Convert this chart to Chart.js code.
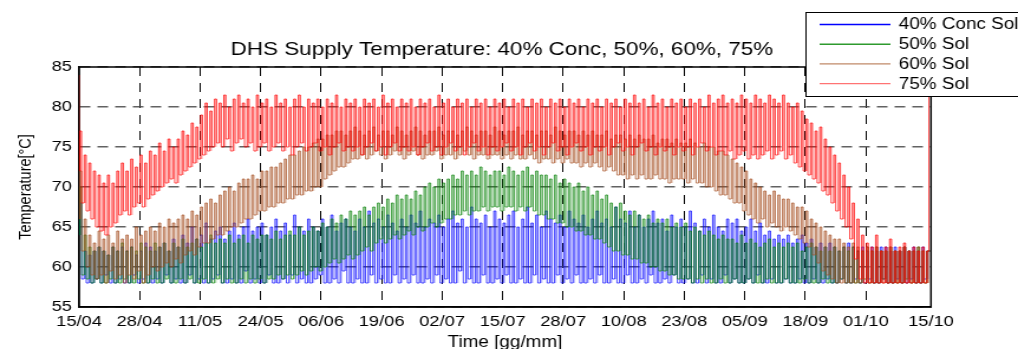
<!DOCTYPE html>
<html>
<head>
<meta charset="utf-8">
<title>DHS Supply Temperature</title>
<script src="https://cdn.jsdelivr.net/npm/chart.js@4.4.1/dist/chart.umd.min.js"></script>
<style>
    html, body { margin: 0; padding: 0; background: #fff; overflow: hidden; }
    /* the original figure is stretched sideways, so draw narrow and scale on x */
    #wrap { width: 862px; height: 349px; transform: scaleX(1.18097); transform-origin: 0 0; }
</style>
</head>
<body>
<div id="wrap"><canvas id="tempChart" width="862" height="349"></canvas></div>
<script>
Chart.defaults.font.family = '"Liberation Sans", Arial, sans-serif';
Chart.defaults.color = '#000';

const seriesLabels = ['40% Conc Sol', '50% Sol', '60% Sol', '75% Sol'];
const lineColors = ['#0000ff', '#008000', '#a34a1c', '#ff0000'];
const fillColors = ['rgba(0,0,255,0.27)', 'rgba(0,128,0,0.28)', 'rgba(163,74,28,0.33)', 'rgba(255,0,0,0.33)'];
const legendColors = ['#0000ff', '#2e9a2e', '#c08a68', '#ff7373'];

// x axis: days counted from 15/04
const lastDay = 183;
const tickDays = [0, 13, 26, 39, 52, 65, 78, 91, 104, 117, 130, 143, 156, 169, 183];
const tickLabels = ['15/04', '28/04', '11/05', '24/05', '06/06', '19/06', '02/07', '15/07',
    '28/07', '10/08', '23/08', '05/09', '18/09', '01/10', '15/10'];

// value at the very first and very last sample (blue, green, brown, red)
const startValues = [72, 74, 76, 84];
const endValues = [62, 62, 62, 85];

// daily peak / daily low per series (days 0..182)
const blueHi = [
    68, 62, 61.5, 62, 62.5, 62, 61.5, 62.5, 62, 62.5,
    62, 62.5, 61.5, 62, 63, 62.5, 62, 62.5, 63, 62,
    63.5, 62.5, 64, 63, 65, 63.5, 64, 65.5, 63.5, 64.5,
    65, 63.5, 64.5, 65.5, 64, 65, 66, 64.5, 65, 65.5,
    64, 65, 66, 64.5, 65.5, 64, 66.5, 65, 64.5, 66,
    65, 64.5, 66, 65, 66.5, 64.5, 65.5, 66, 65, 64.5,
    66, 65, 67, 65.5, 66, 65, 66.5, 65.5, 64.5, 66,
    65, 66.5, 65.5, 67, 65, 66, 65.5, 66.5, 65, 66,
    67, 65.5, 66, 65, 67.5, 66, 65.5, 66.5, 65, 67,
    66, 65.5, 66.5, 67, 65, 66, 67.5, 65.5, 66.5, 65,
    67, 66, 65.5, 66.5, 65, 67, 66, 65.5, 66.5, 65,
    66, 67, 65.5, 66, 65, 67.5, 66, 65.5, 67, 65,
    66.5, 65, 66, 67, 65.5, 66, 64.5, 66.5, 65, 66,
    65, 67, 65.5, 64.5, 66, 65, 66.5, 65, 64.5, 66,
    65.5, 66, 64.5, 65, 66, 64.5, 65.5, 64, 64.5, 63.5,
    64, 63.5, 64, 63, 63.5, 64, 63, 63.5, 62.5, 63,
    62.5, 63, 62.5, 62, 62.5, 63, 62.5, 62, 62.5, 62,
    62.5, 62, 62.5, 62.5, 62, 62.5, 62, 62.5, 62, 62.5,
    62, 62.5, 62
];
const blueLo = [
    64, 58.5, 58, 58, 58.5, 58, 59, 58, 58, 58.5,
    58, 58, 59, 58, 58.5, 58, 58, 58.5, 58, 59,
    58, 58.5, 58, 58, 59, 58, 58.5, 58, 58, 58.5,
    59, 58, 58, 58.5, 58, 58, 59.5, 58, 58.5, 58,
    58, 59, 58, 58, 58.5, 58, 59, 58, 58.5, 58,
    58, 58.5, 59, 58, 58, 58.5, 58, 59.5, 58, 58,
    58.5, 58, 58, 59, 58, 58.5, 58, 58, 59, 58,
    58.5, 58, 59, 58, 58, 58.5, 58, 59, 58, 58.5,
    58, 58, 59.5, 58, 58.5, 58, 58, 59, 58, 58,
    58.5, 58, 59, 58, 58, 58.5, 58, 58, 59, 58,
    58.5, 58, 58, 59, 58, 58.5, 58, 59, 58, 58,
    58.5, 58, 59, 58, 58, 58.5, 58, 58, 59, 58,
    58, 58.5, 58, 59, 58, 58, 58.5, 58, 59, 58,
    58, 58.5, 58, 58, 59, 58, 58.5, 58, 58, 59,
    58, 58.5, 58, 58, 58.5, 58, 59, 58, 58, 58.5,
    58, 58, 58.5, 58, 58, 58.5, 58, 58, 58.5, 58,
    58, 58.5, 58, 58, 58.5, 58, 58, 58.5, 58, 58,
    58.5, 58, 58, 58.5, 58, 58, 58.5, 58, 58, 58.5,
    58, 58, 58.5
];

const greenHi = [
    70, 64, 62.5, 62, 62.5, 62, 61.5, 62.5, 62, 63,
    62, 62.5, 62, 63, 62.5, 62, 63, 62.5, 63, 62,
    63, 62.5, 63.5, 62.5, 63, 63.5, 62.5, 63, 64, 63,
    63.5, 63, 64, 63, 63.5, 64, 63, 64, 63.5, 64,
    64, 63.5, 64.5, 63.5, 64, 64.5, 64, 65, 64, 64.5,
    65, 64.5, 65.5, 65, 66, 65.5, 66.5, 66, 67, 66.5,
    67, 67.5, 66.5, 67.5, 68, 67.5, 68.5, 68, 69, 68.5,
    69, 68.5, 69.5, 69, 70, 70.5, 70, 71, 70.5, 71,
    71.5, 71, 72, 71.5, 72, 71.5, 72.5, 72, 71.5, 72,
    72, 71.5, 72.5, 72, 71.5, 72, 72.5, 71.5, 72, 71.5,
    71.5, 71, 71.5, 70.5, 71, 70.5, 70, 70.5, 69.5, 70,
    69, 69.5, 68.5, 69, 68, 67.5, 68, 67, 66.5, 67,
    66.5, 66, 66.5, 65.5, 66, 65.5, 66, 65, 65.5, 65,
    65.5, 64.5, 65, 64.5, 64, 64.5, 64, 63.5, 64, 63.5,
    63.5, 63, 64, 63, 63.5, 63, 62.5, 63, 63.5, 62.5,
    63, 62.5, 63, 62.5, 63, 62, 62.5, 63, 62.5, 62,
    62.5, 62, 62.5, 62, 62.5, 62, 62.5, 62, 62, 62.5,
    62, 62.5, 62, 62, 62.5, 62, 62, 62.5, 62, 62,
    62.5, 62, 62
];
const greenLo = [
    64, 59, 58.5, 58, 58.5, 58, 58, 58.5, 58, 58,
    58.5, 58, 58, 58.5, 58, 58, 58.5, 58, 58, 58.5,
    58, 58, 58.5, 58, 58.5, 58, 58, 58.5, 58, 58,
    58.5, 58, 58.5, 58, 58, 58.5, 58, 58.5, 58, 58.5,
    58, 58.5, 58.5, 59, 58.5, 59, 58.5, 59, 59.5, 59,
    59.5, 60, 59.5, 60, 60.5, 61, 60.5, 61, 61.5, 61,
    61.5, 62, 62.5, 62, 63, 63.5, 63, 63.5, 64, 63.5,
    64, 64.5, 64, 65, 64.5, 65, 65.5, 65, 65.5, 66,
    66, 66.5, 66.5, 67, 66.5, 67, 67, 67.5, 67, 67.5,
    67.5, 67, 67.5, 67.5, 67, 67.5, 67, 67.5, 67, 66.5,
    66.5, 66, 66, 65.5, 65.5, 65, 65, 64.5, 64.5, 64,
    64, 63.5, 63.5, 63, 62.5, 62, 62, 61.5, 61.5, 61,
    61, 60.5, 60.5, 60, 60, 59.5, 59.5, 59, 59, 58.5,
    58.5, 58.5, 58, 58.5, 58, 58.5, 58, 58, 58.5, 58,
    58, 58.5, 58, 58, 58.5, 58, 58, 58, 58.5, 58,
    58, 58, 58.5, 58, 58, 58, 58.5, 58, 58, 58,
    58.5, 58, 58, 58, 58.5, 58, 58, 58, 58, 58.5,
    58, 58, 58, 58.5, 58, 58, 58, 58, 58.5, 58,
    58, 58, 58
];

const brownHi = [
    72, 66, 64, 63, 64.5, 63.5, 64, 63, 64.5, 63.5,
    64, 63.5, 65, 64, 64.5, 65, 64.5, 65.5, 65, 66,
    65.5, 66, 66.5, 66, 67, 66.5, 67.5, 68, 68.5, 68,
    69, 69.5, 70, 69.5, 70.5, 71, 71, 71.5, 71, 72,
    72, 72.5, 72.5, 73, 73.5, 74, 74, 74.5, 75, 75,
    75.5, 76, 76, 76.5, 76.5, 77, 77, 76.5, 77, 77.5,
    77, 76.5, 77, 77.5, 76.5, 77, 77, 76.5, 77.5, 77,
    76.5, 77, 77.5, 77, 76.5, 77, 77, 77.5, 76.5, 77,
    77, 76.5, 77, 77.5, 77, 76.5, 77, 77, 76.5, 77.5,
    77, 76.5, 77, 77, 77.5, 76.5, 77, 77, 76.5, 77,
    77, 76.5, 77.5, 77, 76.5, 77, 77, 76.5, 77, 76.5,
    77, 76.5, 76.5, 77, 76, 76.5, 76.5, 76, 76.5, 76,
    76.5, 76, 76, 76.5, 75.5, 76, 76, 75.5, 76, 75.5,
    75.5, 76, 75.5, 75, 75.5, 75, 75, 74.5, 74.5, 74,
    73.5, 73, 72.5, 72, 71, 70.5, 70, 69.5, 69, 69.5,
    69, 68.5, 68.5, 68, 67.5, 67.5, 67, 66, 65.5, 65,
    64.5, 64, 63.5, 63.5, 63, 62.5, 63, 62.5, 62, 62.5,
    62, 62.5, 62, 62, 62.5, 62, 62, 62.5, 62, 62,
    62.5, 62, 62
];
const brownLo = [
    66, 62, 60, 59, 58.5, 59, 58, 59.5, 58.5, 59,
    58, 59, 58.5, 59.5, 58, 59, 60, 59.5, 60, 60.5,
    60, 61, 60.5, 61.5, 62, 61.5, 62.5, 63, 63, 63.5,
    64, 64, 64.5, 65, 65, 65.5, 66, 66, 66.5, 67,
    67, 67.5, 67.5, 68, 68, 68.5, 68.5, 69, 69, 69.5,
    69.5, 70, 70, 71, 71.5, 72, 72.5, 72.5, 73, 73.5,
    73.5, 74, 73.5, 74, 74.5, 74, 73.5, 74, 74.5, 74,
    73.5, 74, 74.5, 74, 73.5, 74, 74, 74.5, 73.5, 74,
    74, 73.5, 74, 74.5, 74, 73.5, 74, 74, 73.5, 74,
    74, 73.5, 74, 73.5, 74, 73.5, 73.5, 74, 73.5, 73,
    73.5, 73.5, 73, 73.5, 73, 73.5, 73, 73, 72.5, 73,
    72.5, 73, 72.5, 72, 72.5, 72, 71.5, 71.5, 71, 71.5,
    71, 71.5, 71, 71, 71.5, 71, 71, 70.5, 71, 71,
    71, 70.5, 71, 70.5, 70.5, 70, 70, 69.5, 69, 69,
    68.5, 68, 68, 67, 66.5, 66, 65.5, 66, 65, 65.5,
    65, 64.5, 65, 64.5, 64, 63.5, 63, 62.5, 61.5, 60.5,
    59.5, 59, 58.5, 58, 58, 58, 58, 58, 58, 58,
    58, 58, 58, 58, 58, 58, 58, 58, 58, 58,
    58, 58, 58
];

const redHi = [
    77, 74, 73, 72, 71.5, 70.5, 71.5, 70.5, 72, 73,
    72, 73.5, 72.5, 74, 73, 74.5, 74, 75.5, 74.5, 76,
    75, 76, 77, 76.5, 78, 77.5, 79, 80.5, 79.5, 81,
    80.5, 81.5, 80, 81, 81.5, 80.5, 81, 80, 81.5, 80.5,
    81, 80, 81.5, 80.5, 81, 80, 81, 81.5, 80, 81,
    80.5, 81, 80, 81, 80.5, 81.5, 80, 81, 80.5, 81,
    80, 81, 80.5, 81, 80, 81.5, 80.5, 81, 80, 81,
    80.5, 81, 80, 81, 80.5, 81, 80, 81.5, 80.5, 81,
    80, 81, 80.5, 81, 80, 81, 80.5, 81, 80, 81,
    80.5, 81, 80, 81, 80.5, 81, 80, 81, 80.5, 81,
    80, 81, 80.5, 81, 80, 81, 80.5, 81, 80, 81,
    80.5, 81, 80, 81, 80.5, 81, 80, 81, 80.5, 81.5,
    80.5, 81, 80, 81.5, 80.5, 81, 80, 81, 80.5, 81,
    80, 81, 80.5, 81, 80, 81.5, 80.5, 81, 81.5, 80.5,
    81, 80.5, 81.5, 81, 80.5, 81.5, 81, 80.5, 81.5, 81,
    80.5, 81.5, 80.5, 80, 80.5, 79.5, 78.5, 78, 77, 77.5,
    76, 75, 74, 73, 71.5, 70, 68, 66, 64, 63,
    62.5, 64, 62, 62.5, 63.5, 62, 62.5, 63, 62, 62.5,
    62, 62.5, 62
];
const redLo = [
    72, 68, 67, 66, 65, 64.5, 64, 65, 65.5, 66.5,
    67, 66.5, 67.5, 68, 67.5, 68.5, 69, 69.5, 70, 70.5,
    71, 70.5, 71.5, 72, 72.5, 73, 73.5, 74, 74.5, 75,
    75.5, 75, 76, 74.5, 75.5, 76, 75, 75.5, 74.5, 75,
    75.5, 74.5, 75, 75.5, 74.5, 75, 74, 75, 75.5, 74.5,
    75, 75.5, 74.5, 75, 74, 75, 75.5, 74.5, 75, 74.5,
    75, 74, 75, 75.5, 74.5, 75, 74, 75, 75.5, 74.5,
    75, 74.5, 75, 74, 75, 75.5, 74.5, 75, 74, 75,
    75.5, 74.5, 75, 74, 75, 75.5, 74.5, 75, 74, 75,
    74.5, 75, 75.5, 74.5, 75, 74, 75, 75.5, 74.5, 75,
    74, 75, 75.5, 74.5, 75, 74, 75, 75.5, 74.5, 75,
    74, 75, 74.5, 75, 74, 75, 75.5, 74.5, 75, 74,
    75, 75.5, 74.5, 75, 74, 75, 74.5, 75, 74, 75,
    74.5, 75, 74, 75, 75.5, 74.5, 75, 74, 74.5, 74,
    74.5, 73.5, 74, 74.5, 73.5, 74, 73.5, 74, 74.5, 73.5,
    74, 74.5, 73.5, 74, 73, 72.5, 72, 71.5, 71, 70.5,
    69.5, 69, 68, 67, 66, 65, 63.5, 61, 58.5, 58,
    58, 58, 58, 58, 58, 58, 58, 58, 58, 58,
    58, 58, 58
];

const highs = [blueHi, greenHi, brownHi, redHi];
const lows = [blueLo, greenLo, brownLo, redLo];

// within each day: the peak holds from pulseStart to pulseEnd, the low the rest of the day
// (stepped 'after': each segment takes the value of the point that ends it)
const pulseStart = 0.1;
const pulseEnd = 0.55;

function pulsePoints(i, lowOnly) {
    const pts = [{ x: 0, y: startValues[i] }];
    const n = Math.min(highs[i].length, lows[i].length);
    for (let d = 0; d < n; d++) {
        pts.push({ x: d + pulseStart, y: lows[i][d] });
        pts.push({ x: d + pulseEnd, y: lowOnly ? lows[i][d] : highs[i][d] });
    }
    pts.push({ x: lastDay, y: endValues[i] });
    return pts;
}

const datasets = [];
for (let i = 0; i < 4; i++) {
    datasets.push({
        label: seriesLabels[i],
        data: pulsePoints(i, false),
        borderColor: lineColors[i],
        backgroundColor: fillColors[i],
        borderWidth: 0.7,
        stepped: 'after',
        pointRadius: 0,
        fill: 4 + i, // shade the pulse down to the daily low
        order: 4 - i
    });
}
for (let i = 0; i < 4; i++) {
    datasets.push({
        label: seriesLabels[i] + ' low',
        data: pulsePoints(i, true),
        borderColor: 'rgba(0,0,0,0)',
        borderWidth: 0,
        stepped: 'after',
        pointRadius: 0,
        fill: false,
        order: 10
    });
}

// black box round the plot, like the matlab axes
const framePlugin = {
    id: 'frame',
    beforeDatasetsDraw(chart) {
        const { ctx, chartArea: a } = chart;
        ctx.save();
        ctx.strokeStyle = '#000';
        ctx.lineWidth = 1.5;
        ctx.strokeRect(a.left, a.top, a.right - a.left, a.bottom - a.top);
        ctx.restore();
    }
};

// legend box in the top right corner, partly cut by the image edge
const legendBox = {
    id: 'legendBox',
    afterDraw(chart) {
        const ctx = chart.ctx;
        ctx.save();
        ctx.fillStyle = '#fff';
        ctx.fillRect(682, 12, 200, 84);
        ctx.strokeStyle = '#000';
        ctx.lineWidth = 1;
        ctx.strokeRect(682.5, 12.5, 200, 84);
        ctx.font = '16px "Liberation Sans", Arial, sans-serif';
        ctx.textBaseline = 'middle';
        for (let i = 0; i < 4; i++) {
            const y = 24.5 + i * 19.7;
            ctx.strokeStyle = legendColors[i];
            ctx.lineWidth = 1.4;
            ctx.beginPath();
            ctx.moveTo(694, y);
            ctx.lineTo(754, y);
            ctx.stroke();
            ctx.fillStyle = '#000';
            ctx.fillText(chart.data.datasets[i].label, 761, y + 0.5);
        }
        ctx.restore();
    }
};

const ctx = document.getElementById('tempChart').getContext('2d');
const tempChart = new Chart(ctx, {
    type: 'line',
    data: { datasets: datasets },
    options: {
        responsive: false,
        animation: false,
        devicePixelRatio: 1,
        normalized: true,
        events: [],
        layout: { padding: { left: 0, right: 12, top: 0, bottom: 0 } },
        plugins: {
            legend: { display: false },
            tooltip: { enabled: false },
            title: {
                display: true,
                text: 'DHS Supply Temperature: 40% Conc, 50%, 60%, 75%',
                color: '#000',
                font: { size: 19, weight: 'normal' },
                padding: { top: 38.6, bottom: 5.6 }
            }
        },
        scales: {
            x: {
                type: 'linear',
                min: 0,
                max: lastDay,
                z: 1, // grid over the data, as in the original
                afterBuildTicks: (scale) => {
                    scale.ticks = tickDays.map(v => ({ value: v }));
                },
                afterFit: (scale) => { scale.height = 42; },
                ticks: {
                    callback: (value, index) => tickLabels[index],
                    color: '#000',
                    font: { size: 15.5 },
                    maxRotation: 0,
                    autoSkip: false,
                    padding: 5
                },
                grid: { color: '#000', lineWidth: 1, drawTicks: false },
                border: { display: true, color: '#000', width: 1.5, dash: [9, 7] },
                title: {
                    display: true,
                    text: 'Time [gg/mm]',
                    color: '#000',
                    font: { size: 16, lineHeight: 0.85 },
                    padding: 0
                }
            },
            y: {
                min: 55,
                max: 85,
                z: 1,
                afterFit: (scale) => { scale.width = 66.9; },
                ticks: { stepSize: 5, color: '#000', font: { size: 15.5 }, padding: 6 },
                grid: { color: 'rgba(70,70,70,0.85)', lineWidth: 1.6, drawTicks: false },
                border: { display: true, color: '#000', width: 1.5, dash: [9, 6] },
                title: {
                    display: true,
                    text: 'Temperature[°C]',
                    color: '#000',
                    font: { size: 14.5 },
                    padding: 13
                }
            },
            yRight: {
                position: 'right',
                min: 0,
                max: 1,
                afterFit: (scale) => { scale.width = 61.7; },
                ticks: { display: false },
                grid: { display: false, drawTicks: false },
                border: { display: false }
            }
        }
    },
    plugins: [framePlugin, legendBox]
});
</script>
</body>
</html>
